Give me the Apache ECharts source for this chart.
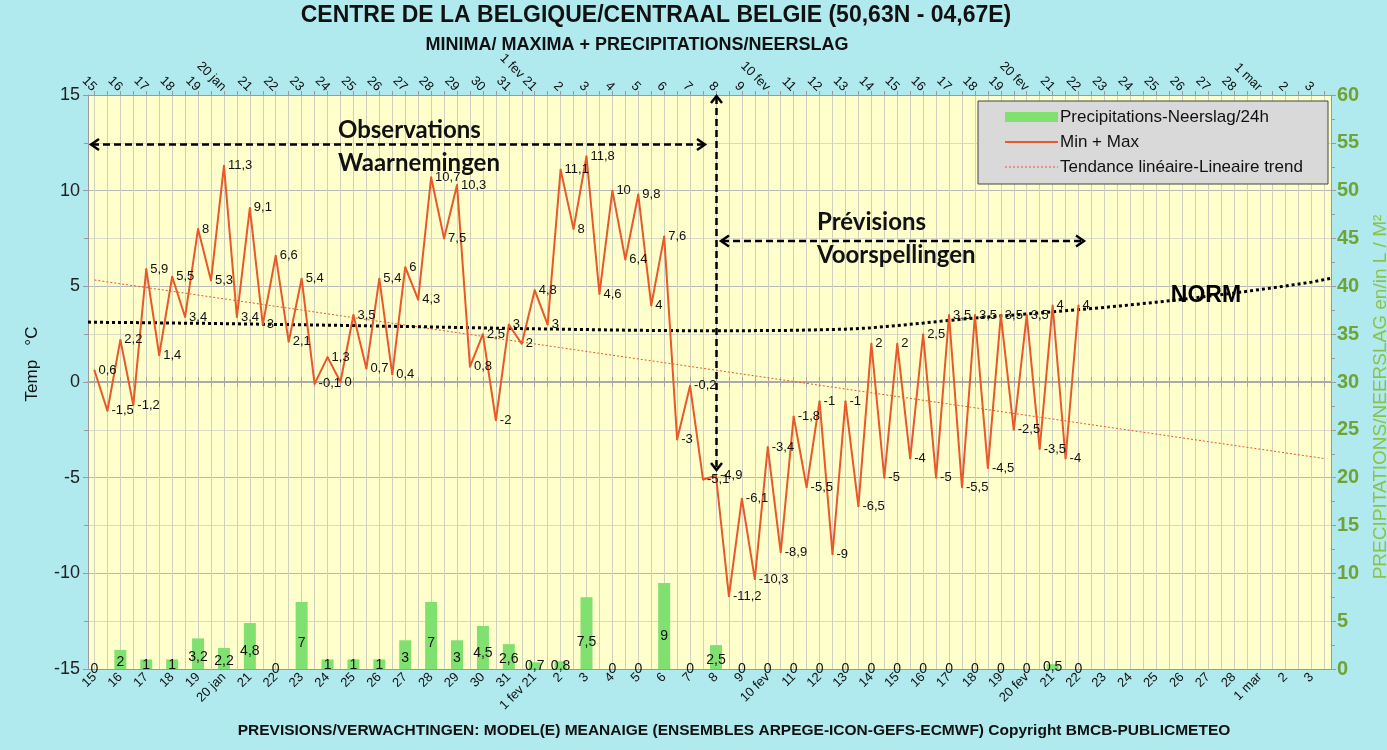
<!DOCTYPE html>
<html>
<head>
<meta charset="utf-8">
<script src="https://cdn.jsdelivr.net/npm/echarts@6.0.0/dist/echarts.min.js"></script>
<style>
html,body{margin:0;padding:0;background:#b0eaee;}
#chart{width:1387px;height:750px;}
</style>
</head>
<body>
<div id="chart"></div>
<script>
// ---- data ----
const dayLabels = ['15','16','17','18','19','20 jan','21','22','23','24','25','26','27','28','29','30','31',
  '1 fev 21','2','3','4','5','6','7','8','9','10 fev','11','12','13','14','15','16','17','18','19','20 fev',
  '21','22','23','24','25','26','27','28','1 mar','2','3'];
const minTemp = [null,-1.5,-1.2,1.4,3.4,5.3,3.4,3,2.1,-0.1,0,0.7,0.4,4.3,7.5,0.8,-2,2,3,8,4.6,6.4,4,-3,
  -5.1,-11.2,-10.3,-8.9,-5.5,-9,-6.5,-5,-4,-5,-5.5,-4.5,-2.5,-3.5,-4];
const maxTemp = [0.6,2.2,5.9,5.5,8,11.3,9.1,6.6,5.4,1.3,3.5,5.4,6,10.7,10.3,2.5,3,4.8,11.1,11.8,10,9.8,7.6,-0.2,
  -4.9,-6.1,-3.4,-1.8,-1,-1,2,2,2.5,3.5,3.5,3.5,3.5,4,4];
const precip = [0,2,1,1,3.2,2.2,4.8,0,7,1,1,1,3,7,3,4.5,2.6,0.7,0.8,7.5,0,0,9,0,2.5,0,0,0,0,0,0,0,0,0,0,0,0,0.5,0];
const normDays = [3.12,3.11,3.10,3.08,3.07,3.05,3.03,3.01,2.99,2.97,2.95,2.92,2.90,2.88,2.85,2.83,2.80,2.78,2.76,
  2.74,2.72,2.70,2.69,2.68,2.68,2.68,2.69,2.70,2.73,2.76,2.83,2.95,3.08,3.22,3.34,3.45,3.56,3.67,3.78,3.90,
  4.03,4.17,4.32,4.48,4.65,4.83,5.02,5.22];
const normLeftEdge = 3.13;
const normRightEdge = 5.42;
const trendStart = 5.33;
const trendEnd = -4.0;

// ---- build half-day slots (min then max per day) ----
const N = dayLabels.length * 2;
const slotLabels = [];
for (let i = 0; i < N; i++) slotLabels.push(i % 2 === 0 ? dayLabels[i / 2] : '');
const tempData = new Array(N).fill(null);
for (let d = 0; d < maxTemp.length; d++) {
  tempData[2 * d] = maxTemp[d];
  if (d > 0 && minTemp[d] != null) tempData[2 * d - 1] = minTemp[d];
}
const rainData = new Array(N).fill(null);
for (let d = 0; d < precip.length; d++) rainData[2 * d] = precip[d];
const normData = [[-0.5, normLeftEdge]];
normDays.forEach((v, d) => normData.push([2 * d, v]));
normData.push([N - 0.5, normRightEdge]);
const trendData = new Array(N).fill(null);
trendData[0] = trendStart;
trendData[N - 1] = trendEnd;

const NARROW = "'Liberation Sans Narrow','Arial Narrow','Liberation Sans',Arial,sans-serif";
const SANS = "'Liberation Sans',Arial,sans-serif";
const fmt = p => (p.value == null ? '' : String(Array.isArray(p.value) ? p.value[1] : p.value).replace('.', ','));
const LINE = '#e8582a';
const GREEN = '#80e070';

const chart = echarts.init(document.getElementById('chart'));
const dash = {stroke:'#000', lineWidth:2.5, lineDash:[7,4]};
const head = {stroke:'#000', lineWidth:2.5, fill:null};
const CAL = "Lato,'Open Sans',sans-serif";

chart.setOption({
  backgroundColor: '#b0eaee',
  animation: false,
  grid: {left: 88, right: 56, top: 95, bottom: 81, show: true, backgroundColor: '#ffffcc', borderWidth: 0},
  xAxis: [
    {type:'category', data: slotLabels, position:'bottom', boundaryGap:true,
     axisLine:{onZero:false, lineStyle:{color:'#9a9a9a'}}, axisTick:{show:false},
     axisLabel:{interval:0, rotate:45, fontSize:13, color:'#111', margin:6, fontFamily:SANS},
     splitLine:{show:true, alignWithLabel:true, interval:0, lineStyle:{color:'#d0d0c0', width:1}}},
    {type:'category', data: slotLabels, position:'top', boundaryGap:true,
     axisLine:{onZero:false, lineStyle:{color:'#9a9a9a'}},
     axisTick:{show:true, alignWithLabel:true, interval:0, length:4, lineStyle:{color:'#9a9a9a'}},
     axisLabel:{interval:0, rotate:45, fontSize:13, color:'#111', margin:6, fontFamily:SANS},
     splitLine:{show:false}},
    {type:'value', min:-0.5, max:N - 0.5, show:false},
    {type:'category', data: slotLabels, position:'bottom', boundaryGap:true,
     axisLine:{onZero:true, onZeroAxisIndex:0, lineStyle:{color:'#a8a8a8', width:1.5}},
     axisTick:{show:true, alignWithLabel:true, interval:0, length:5, inside:true, lineStyle:{color:'#a8a8a8'}},
     axisLabel:{show:false}, splitLine:{show:false}},
    {type:'category', data: slotLabels, position:'bottom', boundaryGap:true,
     axisLine:{onZero:true, onZeroAxisIndex:0, lineStyle:{color:'#a8a8a8', width:1.5}},
     axisTick:{show:true, alignWithLabel:true, interval:0, length:5, inside:false, lineStyle:{color:'#a8a8a8'}},
     axisLabel:{show:false}, splitLine:{show:false}}
  ],
  yAxis: [
    {type:'value', min:-15, max:15, interval:5, position:'left',
     axisLine:{show:true, onZero:false, lineStyle:{color:'#9a9a9a'}},
     axisTick:{show:true, length:5, lineStyle:{color:'#9a9a9a'}},
     minorTick:{show:true, splitNumber:2, length:4, lineStyle:{color:'#9a9a9a'}},
     axisLabel:{fontSize:18, color:'#222', margin:8, fontFamily:SANS},
     splitLine:{show:true, lineStyle:{color:'#b8b8b8', width:1}},
     minorSplitLine:{show:true, lineStyle:{color:'#dadac8', width:1}}},
    {type:'value', min:0, max:60, interval:5, position:'right',
     axisLine:{show:true, onZero:false, lineStyle:{color:'#9a9a9a'}},
     axisTick:{show:true, length:5, lineStyle:{color:'#9a9a9a'}},
     minorTick:{show:true, splitNumber:2, length:4, lineStyle:{color:'#9a9a9a'}},
     axisLabel:{fontSize:20, fontWeight:'bold', color:'#70a236', margin:6, fontFamily:NARROW},
     splitLine:{show:false}}
  ],
  series: [
    {name:'Precipitations-Neerslag/24h', type:'bar', xAxisIndex:0, yAxisIndex:1, data: rainData,
     barWidth:12, itemStyle:{color:GREEN}, z:2,
     label:{show:true, position:['50%','62%'], align:'center', verticalAlign:'middle',
            formatter: fmt, fontSize:14, color:'#111', fontFamily:NARROW}},
    {name:'Tendance linéaire-Lineaire trend', type:'line', xAxisIndex:0, yAxisIndex:0, data: trendData,
     connectNulls:true, symbol:'none', lineStyle:{color:LINE, width:1, type:[2,2]}, z:3, silent:true},
    {name:'NORM', type:'line', xAxisIndex:2, yAxisIndex:0, data: normData,
     symbol:'none', lineStyle:{color:'#000', width:3, type:[3,3]}, z:4, silent:true},
    {name:'Min + Max', type:'line', xAxisIndex:0, yAxisIndex:0, data: tempData,
     symbol:'circle', symbolSize:2, showSymbol:true, itemStyle:{color:LINE},
     lineStyle:{color:LINE, width:2}, z:5,
     label:{show:true, position:'right', distance:3, formatter: fmt, fontSize:13, color:'#111', fontFamily:NARROW}}
  ],
  graphic: [
    {type:'text', x:656, y:16, z:100, style:{text:'CENTRE DE LA BELGIQUE/CENTRAAL BELGIE (50,63N - 04,67E)',
      font:"bold 23px " + NARROW, fill:'#111', align:'center', verticalAlign:'middle'}},
    {type:'text', x:637, y:45, z:100, style:{text:'MINIMA/ MAXIMA + PRECIPITATIONS/NEERSLAG',
      font:"bold 18px " + NARROW, fill:'#111', align:'center', verticalAlign:'middle'}},
    {type:'text', x:734, y:731, z:100, style:{text:'PREVISIONS/VERWACHTINGEN: MODEL(E) MEANAIGE (ENSEMBLES ARPEGE-ICON-GEFS-ECMWF) Copyright BMCB-PUBLICMETEO',
      font:"bold 15.5px " + NARROW, fill:'#111', align:'center', verticalAlign:'middle'}},
    {type:'text', x:32, y:364, rotation:Math.PI/2, z:100, style:{text:'Temp   °C',
      font:"17px " + SANS, fill:'#111', align:'center', verticalAlign:'middle'}},
    {type:'text', x:1381, y:397, rotation:Math.PI/2, z:100, style:{text:'PRECIPITATIONS/NEERSLAG en/in L / M²',
      font:"19px " + SANS, fill:'#8cc24a', align:'center', verticalAlign:'middle'}},
    // legend box
    {type:'rect', z:100, shape:{x:978, y:101, width:350, height:83}, style:{fill:'#d9d9d9', stroke:'#444', lineWidth:1}},
    {type:'rect', z:101, shape:{x:1005, y:112, width:53, height:10}, style:{fill:GREEN}},
    {type:'line', z:101, shape:{x1:1005, y1:142, x2:1058, y2:142}, style:{stroke:LINE, lineWidth:2}},
    {type:'line', z:101, shape:{x1:1005, y1:167, x2:1058, y2:167}, style:{stroke:LINE, lineWidth:1, lineDash:[2,2]}},
    {type:'text', z:101, x:1060, y:117, style:{text:'Precipitations-Neerslag/24h', font:"17px " + NARROW, fill:'#111', verticalAlign:'middle'}},
    {type:'text', z:101, x:1060, y:142, style:{text:'Min + Max', font:"17px " + NARROW, fill:'#111', verticalAlign:'middle'}},
    {type:'text', z:101, x:1060, y:167, style:{text:'Tendance linéaire-Lineaire trend', font:"17px " + NARROW, fill:'#111', verticalAlign:'middle'}},
    // annotations
    {type:'text', z:100, x:338, y:130, style:{text:'Observations', font:"bold 24px " + CAL, fill:'#111', verticalAlign:'middle'}},
    {type:'text', z:100, x:338, y:163, style:{text:'Waarnemingen', font:"bold 24px " + CAL, fill:'#111', verticalAlign:'middle'}},
    {type:'text', z:100, x:817, y:222, style:{text:'Prévisions', font:"bold 24px " + CAL, fill:'#111', verticalAlign:'middle'}},
    {type:'text', z:100, x:817, y:255, style:{text:'Voorspellingen', font:"bold 24px " + CAL, fill:'#111', verticalAlign:'middle'}},
    {type:'text', z:100, x:1206, y:296, style:{text:'NORM', font:"bold 23px " + SANS, fill:'#000', align:'center', verticalAlign:'middle'}},
    {type:'line', z:100, shape:{x1:92, y1:144.5, x2:704, y2:144.5}, style:dash},
    {type:'polyline', z:100, shape:{points:[[99,139],[91,144.5],[99,150]]}, style:head},
    {type:'polyline', z:100, shape:{points:[[697,139],[705,144.5],[697,150]]}, style:head},
    {type:'line', z:100, shape:{x1:722, y1:241, x2:1083, y2:241}, style:dash},
    {type:'polyline', z:100, shape:{points:[[729,235.5],[721,241],[729,246.5]]}, style:head},
    {type:'polyline', z:100, shape:{points:[[1076,235.5],[1084,241],[1076,246.5]]}, style:head},
    {type:'line', z:100, shape:{x1:716.5, y1:97, x2:716.5, y2:469}, style:dash},
    {type:'polyline', z:100, shape:{points:[[711,103],[716.5,96],[722,103]]}, style:head},
    {type:'polyline', z:100, shape:{points:[[711,463],[716.5,470],[722,463]]}, style:head}
  ]
});
</script>
</body>
</html>
